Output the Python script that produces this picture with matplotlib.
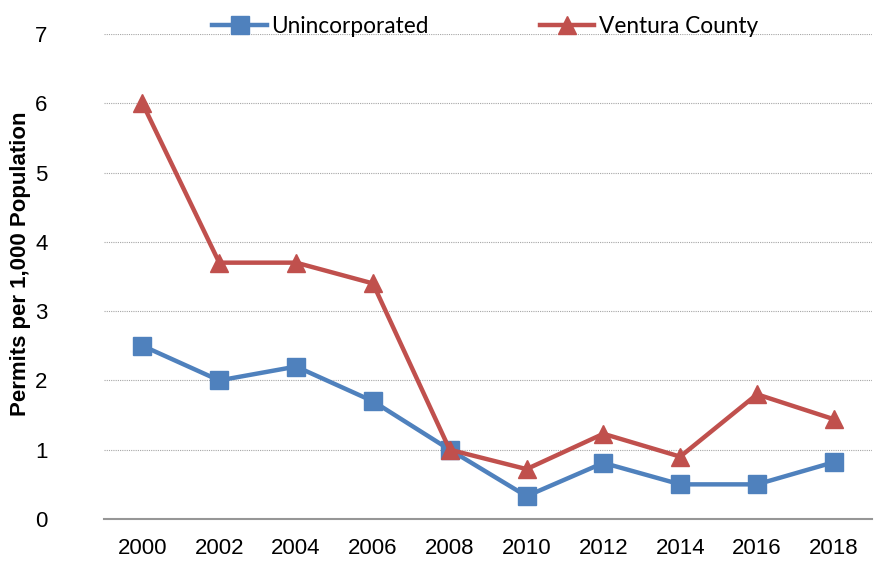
import matplotlib
matplotlib.use("Agg")
import matplotlib.pyplot as plt
from matplotlib import font_manager

years = ["2000", "2002", "2004", "2006", "2008", "2010", "2012", "2014", "2016", "2018"]
unincorporated = [2.5, 2.0, 2.2, 1.7, 1.0, 0.33, 0.81, 0.5, 0.5, 0.82]
ventura_county = [6.0, 3.7, 3.7, 3.4, 1.0, 0.72, 1.23, 0.9, 1.8, 1.44]

names = {f.name for f in font_manager.fontManager.ttflist}
narrow = "Liberation Sans Narrow" if "Liberation Sans Narrow" in names else "Liberation Sans"

fig = plt.figure(figsize=(8.74, 5.65), dpi=100)
ax = fig.add_axes([0.119, 0.0814, 0.879, 0.8584])

x = list(range(len(years)))
ax.plot(x, unincorporated, color="#4F81BD", lw=3.2, marker="s", ms=13,
        label="Unincorporated")
ax.plot(x, ventura_county, color="#C0504D", lw=3.2, marker="^", ms=13,
        label="Ventura County")

ax.set_xlim(-0.5, len(years) - 0.5)
ax.set_ylim(0, 7)
ax.set_yticks(range(0, 8))
ax.set_xticks(x)
ax.set_xticklabels(years)
for lab in ax.get_xticklabels() + ax.get_yticklabels():
    lab.set_fontfamily(narrow)
    lab.set_fontsize(16)
ax.tick_params(axis="both", length=0)
ax.tick_params(axis="x", pad=14)
ax.tick_params(axis="y", pad=45)
for lab in ax.get_yticklabels():
    lab.set_horizontalalignment("center")

ax.grid(axis="y", color="#A6A6A6", ls=(0, (1, 1)), lw=0.8)
ax.set_axisbelow(True)
for s in ("left", "right", "top"):
    ax.spines[s].set_visible(False)
ax.spines["bottom"].set_color("#969696")
ax.spines["bottom"].set_linewidth(1.5)

ax.set_ylabel("Permits per 1,000 Population", fontfamily="Liberation Sans",
              fontweight="bold", fontsize=16)
ax.yaxis.set_label_coords(-0.095, 0.526)

ax.legend(loc="center", bbox_to_anchor=(0.496, 1.015), ncol=2, frameon=False,
          prop={"family": "Lato", "size": 16.3}, handlelength=2.4, handletextpad=0.2,
          columnspacing=4.9, borderaxespad=0, borderpad=0)

fig.savefig("out.png", dpi=100)
